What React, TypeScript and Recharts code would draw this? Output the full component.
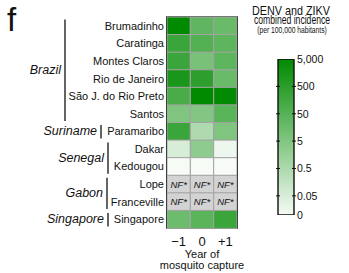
import React from "react";
import { BarChart, Bar, XAxis, YAxis, Cell, LabelList, ReferenceArea } from "recharts";

// ---------- data ----------
const cities = [
  "Brumadinho",
  "Caratinga",
  "Montes Claros",
  "Rio de Janeiro",
  "São J. do Rio Preto",
  "Santos",
  "Paramaribo",
  "Dakar",
  "Kedougou",
  "Lope",
  "Franceville",
  "Singapore",
];
const countries = ["Brazil", "Suriname", "Senegal", "Gabon", "Singapore"];
const countrySizes = [6, 1, 2, 2, 1];
const yearLabels = ["−1", "0", "+1"];

// combined DENV + ZIKV incidence per 100,000 (null = NF*)
const incidenceMinus1: (number | null)[] = [5000, 230, 230, 1250, 100, 5.6, 230, 0.05, 0, null, null, 15];
const incidence0: (number | null)[] = [30, 60, 8, 430, 5000, 4.5, 0.45, 2.6, 0, null, null, 40];
const incidencePlus1: (number | null)[] = [18, 35, 35, 18, 4500, 40, 5.6, 0.015, 0, null, null, 230];

const colorbarTicks = [0, 0.05, 0.5, 5, 50, 500, 5000];
const colorbarTickLabels = ["0", "0.05", "0.5", "5", "50", "500", "5,000"];

// ---------- styles ----------
const FONT = "'Liberation Sans', Arial, Helvetica, sans-serif";
const LOW = [246, 251, 246];
const HIGH = [0, 138, 0];
const NF_FILL = "#d3d3d3";
const bracketOffsets = [99, 63, 56, 57, 56];

// position on the log colour scale
const POS_MIN = 0.3;
const POS_MAX = 6;
function toPos(v: number): number {
  if (v <= 0) return POS_MIN;
  return Math.max(POS_MIN, Math.log10(v / 0.05) + 1);
}
function colorOf(v: number | null): string {
  if (v === null) return NF_FILL;
  const t = (toPos(v) - POS_MIN) / (POS_MAX - POS_MIN);
  const c = LOW.map((l, i) => Math.round(l + (HIGH[i] - l) * t));
  return `rgb(${c[0]},${c[1]},${c[2]})`;
}

const series = [incidenceMinus1, incidence0, incidencePlus1];
const rows = cities.map((city, i) => {
  const r: any = { city };
  series.forEach((s, k) => {
    r[`u${k}`] = 1;
    r[`n${k}`] = s[i] === null ? "NF*" : "";
  });
  return r;
});

const groupStarts: number[] = [];
countrySizes.reduce((acc, n) => {
  groupStarts.push(acc);
  return acc + n;
}, 0);

function CityTick(props: any) {
  const { x, y, payload } = props;
  const i = cities.indexOf(payload.value);
  const step = payload && payload.offset ? payload.offset * 2 : 17.58;
  const g = groupStarts.indexOf(i);
  return (
    <g>
      <text x={x} y={y} textAnchor="end" dominantBaseline="central" fontSize={11} fontFamily={FONT} fill="#111">
        {payload.value}
      </text>
      {g >= 0 && (
        <g>
          <line
            x1={x - bracketOffsets[g]}
            x2={x - bracketOffsets[g]}
            y1={y - step / 2 + 2.5}
            y2={y + (countrySizes[g] - 1) * step + step / 2 - 1.5}
            stroke="#111"
            strokeWidth={1.3}
          />
          <text
            x={x - bracketOffsets[g] - 4}
            y={y + ((countrySizes[g] - 1) * step) / 2}
            textAnchor="end"
            dominantBaseline="central"
            fontSize={12.5}
            fontStyle="italic"
            fontFamily={FONT}
            fill="#111"
          >
            {countries[g]}
          </text>
        </g>
      )}
    </g>
  );
}

function YearTick(props: any) {
  const { x, y, payload } = props;
  const idx = Math.round(payload.value - 0.5);
  return (
    <text x={x} y={y + 18} textAnchor="middle" fontSize={13} fontFamily={FONT} fill="#111">
      {yearLabels[idx]}
    </text>
  );
}

function XLabel(props: any) {
  const vb = props.viewBox || { x: 167, y: 228, width: 70, height: 45 };
  const cx = vb.x + vb.width / 2;
  return (
    <g>
      <text x={cx} y={vb.y + 30} textAnchor="middle" fontSize={11} fontFamily={FONT} fill="#111">
        Year of
      </text>
      <text x={cx} y={vb.y + 41} textAnchor="middle" fontSize={11} fontFamily={FONT} fill="#111">
        mosquito capture
      </text>
    </g>
  );
}

function NFLabel(props: any) {
  const { x, y, width, height, value } = props;
  if (!value) return null;
  return (
    <text
      x={x + width / 2}
      y={y + height / 2}
      textAnchor="middle"
      dominantBaseline="central"
      fontSize={9.5}
      fontStyle="italic"
      fontFamily={FONT}
      fill="#111"
    >
      {value}
    </text>
  );
}

function ColorbarTick(props: any) {
  const { x, y, payload } = props;
  const idx = colorbarTicks.map(toPos).findIndex((p) => Math.abs(p - payload.value) < 1e-6);
  const interior = payload.value > POS_MIN + 1e-6 && payload.value < POS_MAX - 1e-6;
  const barW = 16;
  return (
    <g>
      {interior && (
        <g>
          <line x1={x - 3 - barW - 2} x2={x - 3 - barW + 2} y1={y} y2={y} stroke="#111" strokeWidth={1} />
          <line x1={x - 3 - 2} x2={x - 3 + 2} y1={y} y2={y} stroke="#111" strokeWidth={1} />
        </g>
      )}
      <text x={x} y={y} dominantBaseline="central" fontSize={10.5} fontFamily={FONT} fill="#111">
        {idx >= 0 ? colorbarTickLabels[idx] : ""}
      </text>
    </g>
  );
}

const colorbarData = [{ name: "scale", v: [POS_MIN, POS_MAX] }];

export default function App() {
  return (
    <div style={{ position: "absolute", left: 0, top: 0, width: 349, height: 273, background: "#fff" }}>
      <div style={{ position: "absolute", left: 0, top: 0 }}>
        <BarChart
          width={349}
          height={273}
          data={rows}
          layout="vertical"
          margin={{ top: 17, right: 112, bottom: 0, left: 0 }}
          barCategoryGap={0}
          barGap={0}
        >
          <XAxis
            type="number"
            domain={[0, 3]}
            ticks={[0.5, 1.5, 2.5]}
            interval={0}
            height={45}
            tickSize={0}
            tickMargin={0}
            axisLine={false}
            tick={<YearTick />}
            label={{ content: <XLabel /> }}
            allowDataOverflow
          />
          <YAxis
            type="category"
            dataKey="city"
            width={167}
            tickSize={0}
            tickMargin={3}
            axisLine={false}
            tickLine={false}
            interval={0}
            tick={<CityTick />}
          />
          {series.map((s, k) => (
            <Bar key={k} dataKey={`u${k}`} stackId="s" isAnimationActive={false} stroke="#a3a3a3" strokeWidth={1}>
              {rows.map((_, i) => (
                <Cell key={i} fill={colorOf(s[i])} />
              ))}
              <LabelList dataKey={`n${k}`} content={<NFLabel />} />
            </Bar>
          ))}
          <ReferenceArea
            x1={0}
            x2={3}
            y1={cities[0]}
            y2={cities[cities.length - 1]}
            fill="none"
            fillOpacity={0}
            stroke="#111"
            strokeWidth={1.6}
            ifOverflow="visible"
          />
        </BarChart>
      </div>
      <div style={{ position: "absolute", left: 0, top: 0 }}>
        <BarChart
          width={349}
          height={273}
          data={colorbarData}
          margin={{ top: 59, right: 0, bottom: 58, left: 278 }}
          barCategoryGap={0}
        >
          <defs>
            <linearGradient id="cbgrad" x1="0" y1="1" x2="0" y2="0">
              <stop offset="0%" stopColor={`rgb(${LOW.join(",")})`} />
              <stop offset="100%" stopColor={`rgb(${HIGH.join(",")})`} />
            </linearGradient>
          </defs>
          <XAxis type="category" dataKey="name" hide />
          <YAxis
            type="number"
            orientation="right"
            domain={[POS_MIN, POS_MAX]}
            ticks={colorbarTicks.map(toPos)}
            width={55}
            tickSize={0}
            tickMargin={3}
            axisLine={false}
            tickLine={false}
            tick={<ColorbarTick />}
            interval={0}
            allowDataOverflow
          />
          <Bar dataKey="v" fill="url(#cbgrad)" stroke="#111" strokeWidth={1.4} isAnimationActive={false} />
        </BarChart>
      </div>
      <svg
        width={349}
        height={273}
        style={{ position: "absolute", left: 0, top: 0, pointerEvents: "none" }}
      >
        <text x={7} y={31} fontSize={33} fontFamily={FONT} fill="#111">
          f
        </text>
        <g transform="translate(291,14.5) scale(0.9,1)">
          <text x={0} y={0} textAnchor="middle" fontSize={12} fontFamily={FONT} fill="#111">
            DENV and ZIKV
          </text>
        </g>
        <g transform="translate(292,23.5) scale(0.72,1)">
          <text x={0} y={0} textAnchor="middle" fontSize={12} fontFamily={FONT} fill="#111">
            combined incidence
          </text>
        </g>
        <g transform="translate(292,32.5) scale(0.75,1)">
          <text x={0} y={0} textAnchor="middle" fontSize={9} fontFamily={FONT} fill="#111">
            (per 100,000 habitants)
          </text>
        </g>
      </svg>
    </div>
  );
}
